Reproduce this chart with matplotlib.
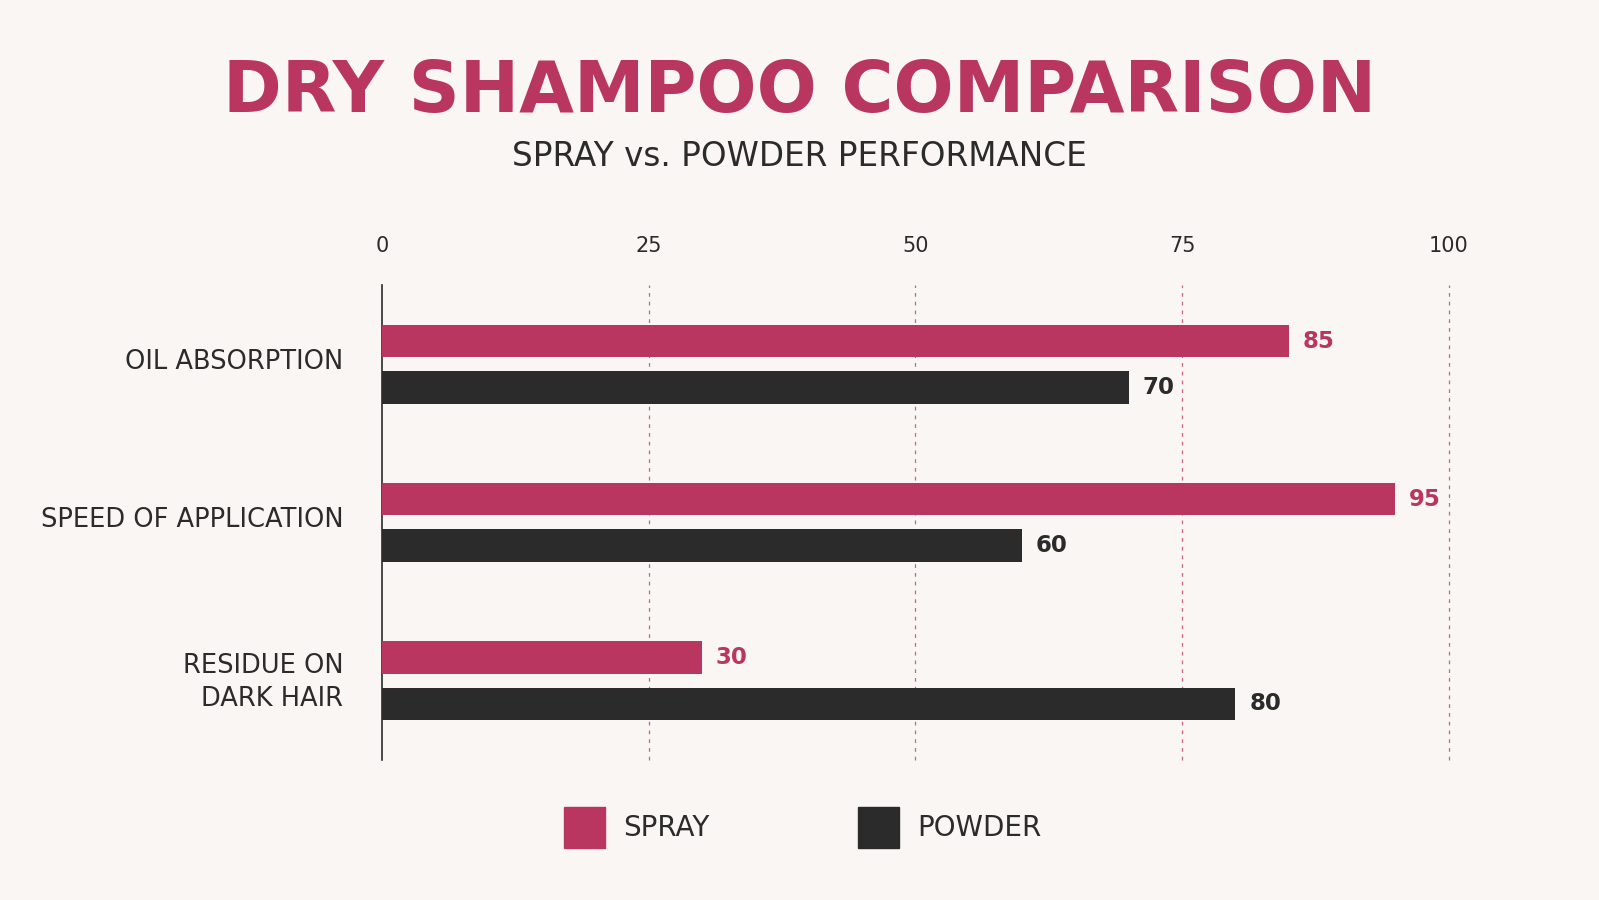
import matplotlib
matplotlib.use("Agg")
import matplotlib.pyplot as plt
from matplotlib.patches import Rectangle
import matplotlib.transforms as mtransforms
import numpy as np

categories = ["OIL ABSORPTION", "SPEED OF APPLICATION", "RESIDUE ON\nDARK HAIR"]
spray = [85, 95, 30]
powder = [70, 60, 80]
ticks = [0, 25, 50, 75, 100]
series_names = ["SPRAY", "POWDER"]

BG = "#FAF6F3"
PINK = "#B8365F"
DARK = "#2B2B2B"
FONT = ["DejaVu Sans"]
plt.rcParams['font.family'] = FONT

fig = plt.figure(figsize=(15.99, 9.0), dpi=100, facecolor=BG)
ax = fig.add_axes([0.239, 0.156, 0.667, 0.527], facecolor=BG)

y = np.arange(len(categories))
off = 0.147
h = 0.206
ax.barh(y - off, spray, height=h, color=PINK, zorder=3)
ax.barh(y + off, powder, height=h, color=DARK, zorder=3)

for yi, v in zip(y, spray):
    ax.text(v + 1.3, yi - off, str(v), va="center", ha="left", color=PINK,
            fontsize=16.5, fontweight="bold")
for yi, v in zip(y, powder):
    ax.text(v + 1.3, yi + off, str(v), va="center", ha="left", color=DARK,
            fontsize=16.5, fontweight="bold")

ax.set_xlim(0, 100)
ax.set_ylim(2.5, -0.5)
ax.set_xticks(ticks)
ax.set_xticklabels([str(t) for t in ticks])
ax.xaxis.tick_top()
ax.tick_params(axis="x", length=0, pad=21, labelsize=15, labelcolor=DARK)
ax.set_yticks(y)
ax.set_yticklabels(categories, fontsize=18.5, color=DARK,
                   linespacing=1.35)
ax.tick_params(axis="y", length=0, pad=28)
shift = mtransforms.ScaledTranslation(0, 5 / 100, fig.dpi_scale_trans)
for lbl in ax.get_yticklabels():
    lbl.set_horizontalalignment("right")
    lbl.set_transform(lbl.get_transform() + shift)

for t in ticks[1:]:
    ax.axvline(t, color=PINK, lw=0.9, ls=(0, (3, 4)), alpha=0.75, zorder=1,
               clip_on=False)

for s in ["top", "right", "bottom"]:
    ax.spines[s].set_visible(False)
ax.spines["left"].set_color(DARK)
ax.spines["left"].set_linewidth(1.2)

fig.text(0.5, 0.897, "DRY SHAMPOO COMPARISON", ha="center", va="center",
         fontsize=51, fontweight="bold", color=PINK)
fig.text(0.5, 0.826, "SPRAY vs. POWDER PERFORMANCE", ha="center", va="center",
         fontsize=23.5, color=DARK)

# legend
W, H = 1599, 900
sq = 41
for x0, name, col in [(564, series_names[0], PINK), (858, series_names[1], DARK)]:
    fig.patches.append(Rectangle((x0 / W, 1 - 848 / H), sq / W, sq / H,
                                 transform=fig.transFigure, color=col))
    fig.text((x0 + 59) / W, 1 - 828 / H, name, ha="left", va="center",
             fontsize=20, color=DARK)

fig.savefig("out.png", dpi=100, facecolor=BG)
